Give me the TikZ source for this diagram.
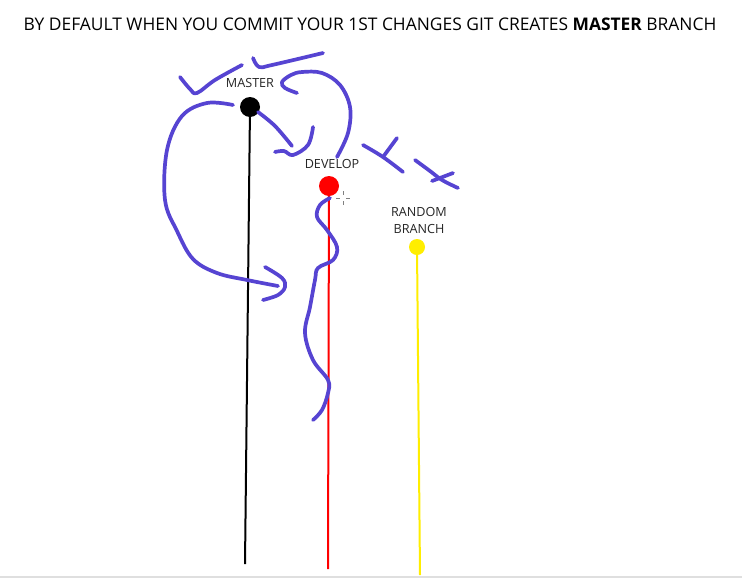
\documentclass[tikz,border=0pt]{standalone}
\usepackage{fontspec}
\setmainfont{Open Sans}
\definecolor{scribble}{RGB}{86,68,210}
\definecolor{branchyellow}{RGB}{255,238,0}
\tikzset{
    commit/.style={circle, fill=#1, inner sep=0pt, minimum size=20pt},
    branchlabel/.style={font=\fontsize{12.6}{17}\selectfont, align=center, text=black!85},
    branchline/.style={line width=2pt},
    scrib/.style={draw=scribble, line width=3.7pt, line cap=round, line join=round}
}
\begin{document}
\begin{tikzpicture}[x=1pt, y=-1pt]
    \useasboundingbox[fill=white] (0,0) rectangle (742,579);
    \draw[gray!25, line width=2pt] (0,577) -- (742,577);

    % Title
    \node (title) at (370,24) {\fontsize{17.4}{21}\selectfont BY DEFAULT WHEN YOU COMMIT YOUR 1ST CHANGES GIT CREATES \textbf{MASTER} BRANCH};

    % Commits
    \node[commit=black] (master) at (250,107) {};
    \node[commit=red] (develop) at (329,186) {};
    \node[commit=branchyellow, minimum size=16pt] (random) at (417,247) {};

    % Labels
    \node[branchlabel] (masterlabel) at (250,83) {MASTER};
    \node[branchlabel] (developlabel) at (332,164) {DEVELOP};
    \node[branchlabel] (randomlabel) at (419,220) {RANDOM\\BRANCH};

    % Branches
    \coordinate (masterend) at (245,564);
    \coordinate (developend) at (328,569);
    \coordinate (randomend) at (420,575);
    \draw[branchline, black] (master) -- (masterend);
    \draw[branchline, red] (develop) -- (developend);
    \draw[branchline, branchyellow] (random) -- (randomend);

    % Cursor
    \draw[gray, line width=0.8pt] (336,198) -- (340,198) (346,198) -- (350,198)
        (343,191) -- (343,195) (343,201) -- (343,205);

    % Scribbles round master
    \draw[scrib] plot[smooth, tension=0.6] coordinates {(180,77) (190,89) (197,93) (215,80) (242,65)};
    \draw[scrib] plot[smooth, tension=0.6] coordinates {(253,58) (259,67) (272,65) (323,53)};
    \draw[scrib] plot[smooth, tension=0.6] coordinates {(297,93) (285,88) (282,82) (291,75) (302,72)
        (322,73) (340,85) (350,107) (348,133) (337,157)};
    \draw[scrib] plot[smooth, tension=0.6] coordinates {(258,112) (275,126) (292,146)};
    \draw[scrib] plot[smooth, tension=0.6] coordinates {(275,152) (284,151) (293,155) (308,145) (313,127)};
    \draw[scrib] plot[smooth, tension=0.6] coordinates {(233,105) (207,103) (182,116) (167,150) (165,200)
        (177,231) (193,259) (217,273) (247,280) (278,286)};
    \draw[scrib] plot[smooth, tension=0.6] coordinates {(265,267) (282,278) (285,287) (278,295) (263,300)};

    % Scribbles right of develop
    \draw[scrib] plot[smooth, tension=0.6] coordinates {(363,145) (383,157) (403,172)};
    \draw[scrib] (397,138) -- (383,157);
    \draw[scrib] plot[smooth, tension=0.6] coordinates {(415,160) (430,171) (442,180) (458,188)};
    \draw[scrib] plot[smooth, tension=0.6] coordinates {(453,173) (440,178) (432,181)};

    % Scribble along develop
    \draw[scrib] plot[smooth, tension=0.6] coordinates {(330,198) (320,205) (317,217) (327,230) (337,247)
        (333,260) (318,268) (315,280) (310,307) (305,333) (313,360) (328,380) (328,393) (322,410) (313,420)};
\end{tikzpicture}
\end{document}
